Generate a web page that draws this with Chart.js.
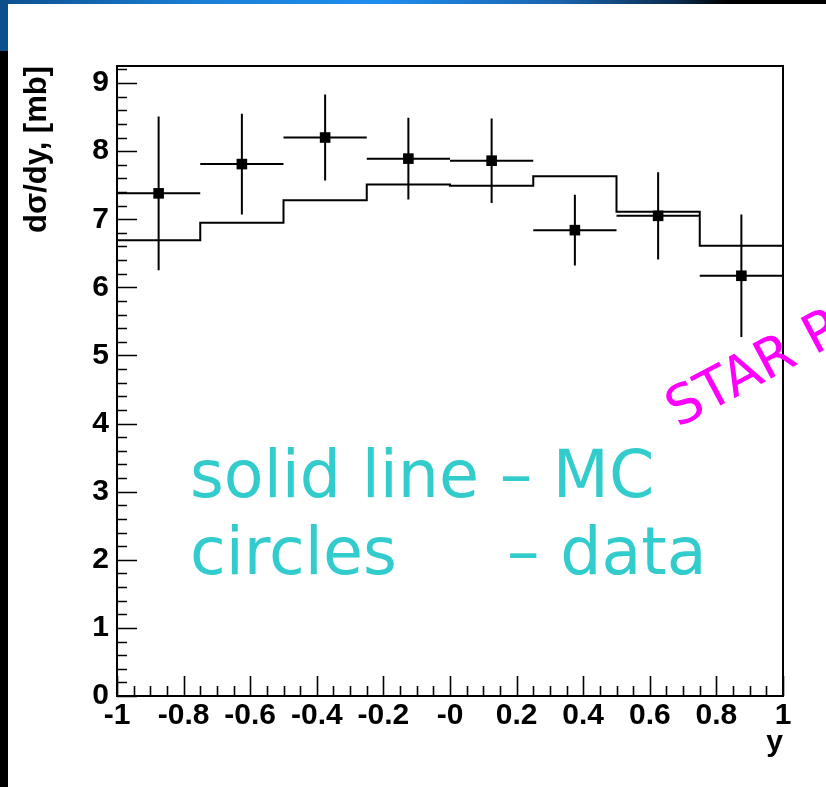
<!DOCTYPE html>
<html>
<head>
<meta charset="utf-8">
<title>dsigma/dy</title>
<script src="https://cdn.jsdelivr.net/npm/chart.js@4/dist/chart.umd.min.js"></script>
<style>
    html, body { margin: 0; padding: 0; background: #fff; }
    body { width: 826px; height: 787px; position: relative; overflow: hidden; }
    #topBand {
        position: absolute; left: 0; top: 0; width: 826px; height: 4px;
        background: linear-gradient(to right, #0e4f8f 0px, #1a7fd6 200px, #1e8ef0 380px, #1b63ad 560px, #0a2a4d 680px, #000 728px, #000 826px);
    }
    #leftStrip {
        position: absolute; left: 0; top: 0; width: 8px; height: 787px;
        background: linear-gradient(to bottom, #0d4e8c 0px, #0d4e8c 51px, #000 51px, #000 787px);
    }
    #chartBox { position: absolute; left: 0; top: 0; width: 826px; height: 787px; }
</style>
</head>
<body>
<div id="topBand"></div>
<div id="leftStrip"></div>
<div id="chartBox"><canvas id="dsdyChart"></canvas></div>

<script>
// bins in rapidity y (width 0.25)
const binEdges = [-1, -0.75, -0.5, -0.25, 0, 0.25, 0.5, 0.75, 1];
const binCenters = [-0.875, -0.625, -0.375, -0.125, 0.125, 0.375, 0.625, 0.875];

// MC histogram (solid line), mb
const mcValues = [6.69, 6.95, 7.28, 7.51, 7.49, 7.63, 7.11, 6.61];

// data points (squares) with errors, mb
const dataValues = [7.38, 7.81, 8.20, 7.89, 7.86, 6.84, 7.05, 6.17];
const dataErrors = [1.13, 0.74, 0.63, 0.60, 0.62, 0.52, 0.64, 0.90];

// axis ticks
const xTickValues = [-1, -0.8, -0.6, -0.4, -0.2, 0, 0.2, 0.4, 0.6, 0.8, 1];
const xTickLabels = ['-1', '-0.8', '-0.6', '-0.4', '-0.2', '-0', '0.2', '0.4', '0.6', '0.8', '1'];
const yTickValues = [0, 1, 2, 3, 4, 5, 6, 7, 8, 9];
const yTickLabels = ['0', '1', '2', '3', '4', '5', '6', '7', '8', '9'];

const labelFont = { family: '"Liberation Sans", Arial, sans-serif', size: 30, weight: 'bold' };

// histogram outline: one point per left edge, last value repeated at the right edge
const mcPoints = binEdges.map((x, i) => ({ x: x, y: mcValues[Math.min(i, mcValues.length - 1)] }));
const dataPoints = binCenters.map((x, i) => ({ x: x, y: dataValues[i] }));

// ROOT-like frame with inner tick marks
const framePlugin = {
    id: 'frame',
    afterDraw(chart) {
        const { ctx, chartArea: a, scales: { x, y } } = chart;
        ctx.save();
        ctx.strokeStyle = '#000';
        ctx.lineWidth = 2;
        ctx.strokeRect(a.left, a.top, a.right - a.left, a.bottom - a.top);

        ctx.lineWidth = 1.6;
        ctx.beginPath();
        // x ticks: major every 0.2, minor every 0.05
        for (let i = 0; i <= 40; i++) {
            const v = -1 + i * 0.05;
            const px = Math.round(x.getPixelForValue(v)) + 0.5;
            const len = (i % 4 === 0) ? 20 : 10;
            ctx.moveTo(px, a.bottom);
            ctx.lineTo(px, a.bottom - len);
        }
        // y ticks: major every 1, minor every 0.2
        for (let i = 0; i <= 46; i++) {
            const v = i * 0.2;
            if (v > y.max) break;
            const py = Math.round(y.getPixelForValue(v)) + 0.5;
            const len = (i % 5 === 0) ? 20 : 10;
            ctx.moveTo(a.left, py);
            ctx.lineTo(a.left + len, py);
        }
        ctx.stroke();
        ctx.restore();
    }
};

// error bars for the data points
const errorBarPlugin = {
    id: 'errorBars',
    afterDatasetsDraw(chart) {
        const { ctx, scales: { x, y } } = chart;
        ctx.save();
        ctx.strokeStyle = '#000';
        ctx.lineWidth = 2;
        ctx.beginPath();
        binCenters.forEach((c, i) => {
            const cx = x.getPixelForValue(c);
            const cy = y.getPixelForValue(dataValues[i]);
            ctx.moveTo(x.getPixelForValue(binEdges[i]), cy);
            ctx.lineTo(x.getPixelForValue(binEdges[i + 1]), cy);
            ctx.moveTo(cx, y.getPixelForValue(dataValues[i] + dataErrors[i]));
            ctx.lineTo(cx, y.getPixelForValue(dataValues[i] - dataErrors[i]));
        });
        ctx.stroke();
        ctx.restore();
    }
};

// slide annotations on top of the plot
const notesPlugin = {
    id: 'notes',
    afterDraw(chart) {
        const ctx = chart.ctx;
        ctx.save();
        ctx.fillStyle = '#33cccc';
        ctx.font = '65px "DejaVu Sans", Verdana, sans-serif';
        ctx.textBaseline = 'alphabetic';
        ctx.textAlign = 'left';
        ctx.fillText('solid line \u2013 MC', 190, 497);
        ctx.fillText('circles', 190, 574);
        ctx.fillText('\u2013 data', 507, 574);

        ctx.fillStyle = '#ff00ff';
        ctx.font = '54px "DejaVu Sans", Verdana, sans-serif';
        ctx.translate(678, 428);
        ctx.rotate(-28 * Math.PI / 180);
        ctx.fillText('STAR Preliminary', 0, 0);
        ctx.restore();
    }
};

document.addEventListener('DOMContentLoaded', function() {
    const ctx = document.getElementById('dsdyChart');
    new Chart(ctx.getContext('2d'), {
        type: 'scatter',
        data: {
            datasets: [{
                label: 'MC',
                type: 'line',
                data: mcPoints,
                stepped: 'before',
                borderColor: '#000',
                borderWidth: 2,
                pointRadius: 0,
                fill: false
            }, {
                label: 'data',
                data: dataPoints,
                pointStyle: 'rect',
                pointRadius: 7.5,
                backgroundColor: '#000',
                borderColor: '#000',
                borderWidth: 0
            }]
        },
        options: {
            responsive: true,
            maintainAspectRatio: false,
            animation: false,
            layout: {
                padding: { left: 0, top: 66, right: 43, bottom: 0 }
            },
            plugins: {
                legend: { display: false },
                tooltip: { enabled: false }
            },
            scales: {
                x: {
                    type: 'linear',
                    min: -1,
                    max: 1,
                    grid: { display: false, drawTicks: false },
                    border: { display: false },
                    afterBuildTicks: scale => { scale.ticks = xTickValues.map(v => ({ value: v })); },
                    afterFit: scale => { scale.height = 91; },
                    ticks: {
                        color: '#000',
                        font: labelFont,
                        padding: 2,
                        maxRotation: 0,
                        autoSkip: false,
                        callback: (v, i) => xTickLabels[i]
                    },
                    title: {
                        display: true,
                        text: 'y',
                        align: 'end',
                        color: '#000',
                        font: labelFont,
                        padding: { top: 0, bottom: 26 }
                    }
                },
                y: {
                    type: 'linear',
                    min: 0,
                    max: 9.25,
                    grid: { display: false, drawTicks: false },
                    border: { display: false },
                    afterBuildTicks: scale => { scale.ticks = yTickValues.map(v => ({ value: v })); },
                    afterFit: scale => { scale.width = 117; },
                    ticks: {
                        color: '#000',
                        font: labelFont,
                        padding: 8,
                        autoSkip: false,
                        callback: (v, i) => yTickLabels[i]
                    },
                    title: {
                        display: true,
                        text: 'd\u03c3/dy, [mb]',
                        align: 'end',
                        color: '#000',
                        font: { family: '"Liberation Sans", Arial, sans-serif', size: 31, weight: 'bold' },
                        padding: { top: 19, bottom: 0 }
                    }
                }
            }
        },
        plugins: [framePlugin, errorBarPlugin, notesPlugin]
    });
});
</script>
</body>
</html>
